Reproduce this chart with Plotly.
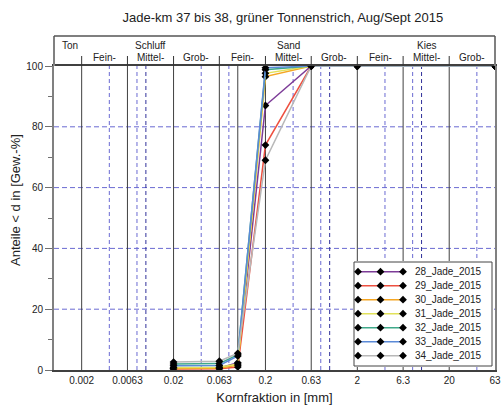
import math
import plotly.graph_objects as go

# ---------------- data ----------------
SIEVE_MM = [0.02, 0.063, 0.1, 0.2, 0.63, 2, 63]

SERIES_NAMES = ["28_Jade_2015", "29_Jade_2015", "30_Jade_2015", "31_Jade_2015",
                "32_Jade_2015", "33_Jade_2015", "34_Jade_2015"]
S28 = [0.6, 0.7, 2.4, 87.0, 100, 100, 100]
S29 = [0.3, 0.4, 1.0, 74.0, 100, 100, 100]
S30 = [0.5, 0.6, 1.6, 96.5, 100, 100, 100]
S31 = [0.8, 0.9, 2.0, 97.6, 100, 100, 100]
S32 = [2.0, 2.1, 5.0, 98.8, 100, 100, 100]
S33 = [1.4, 1.5, 4.6, 99.4, 100, 100, 100]
S34 = [2.6, 2.9, 5.5, 69.0, 100, 100, 100]
SERIES_VALUES = [S28, S29, S30, S31, S32, S33, S34]
SERIES_COLORS = ["#7d3c98", "#ee5040", "#f5a623", "#e2e25a", "#3fa98a", "#5b8ad8", "#b8b8b8"]

TICK_VALS = [0.002, 0.0063, 0.02, 0.063, 0.2, 0.63, 2, 6.3, 20, 63]
TICK_TEXT = ["0.002", "0.0063", "0.02", "0.063", "0.2", "0.63", "2", "6.3", "20", "63"]
Y_TICKS = [0, 20, 40, 60, 80, 100]

MAIN_CLASSES = ["Ton", "Schluff", "Sand", "Kies"]
MAIN_BOUNDS = [(0.001, 0.002), (0.002, 0.063), (0.063, 2), (2, 63)]
SUB_CLASSES = ["Fein-", "Mittel-", "Grob-"] * 3
SUB_BOUNDS = [(0.002, 0.0063), (0.0063, 0.02), (0.02, 0.063),
              (0.063, 0.2), (0.2, 0.63), (0.63, 2),
              (2, 6.3), (6.3, 20), (20, 63)]

SOLID_GRID = [0.002, 0.0063, 0.02, 0.063, 0.1, 0.2, 0.63, 2, 6.3, 20]
DASH_GRID = [0.004, 0.008, 0.04, 0.08, 0.4, 0.8, 4, 8, 40]
DASH_GRID_DARK = [0.01, 1, 10]
H_GRID = [20, 40, 60, 80]
HEADER_TICKS = [0.002, 0.0063, 0.02, 0.063, 0.2, 0.63, 2, 6.3, 20]

# ---------------- layout geometry ----------------
W, H = 501, 405
ML, MR, MT, MB = 54, 6, 66, 35
PW, PH = W - ML - MR, H - MT - MB


def px_x(px):
    return (px - ML) / PW


def px_y(py):
    return (H - MB - py) / PH


FONT = "Arial, Liberation Sans, sans-serif"
TXT = "#222222"
HEADER_TOP = px_y(36)

fig = go.Figure()

for name, vals, col in zip(SERIES_NAMES, SERIES_VALUES, SERIES_COLORS):
    fig.add_trace(go.Scatter(
        x=SIEVE_MM, y=vals, name=name, mode="lines+markers",
        line=dict(color=col, width=1.5),
        marker=dict(symbol="diamond", size=6, color="black"),
        cliponaxis=True, showlegend=False, xaxis="x", yaxis="y"))

shapes = []
for v in SOLID_GRID:
    shapes.append(dict(type="line", xref="x", yref="y", x0=v, x1=v, y0=0, y1=100,
                       line=dict(color="#404040", width=1), layer="below"))
for v in DASH_GRID:
    shapes.append(dict(type="line", xref="x", yref="y", x0=v, x1=v, y0=0, y1=100,
                       line=dict(color="#6a6ad2", width=1, dash="4px,3px"), layer="below"))
for v in DASH_GRID_DARK:
    shapes.append(dict(type="line", xref="x", yref="y", x0=v, x1=v, y0=0, y1=100,
                       line=dict(color="#30309a", width=1, dash="4px,3px"), layer="below"))
for v in H_GRID:
    shapes.append(dict(type="line", xref="paper", yref="y", x0=0, x1=1, y0=v, y1=v,
                       line=dict(color="#6a6ad2", width=1, dash="5px,3px"), layer="below"))
# header box
shapes.append(dict(type="line", xref="paper", yref="paper", x0=0, x1=0, y0=1, y1=HEADER_TOP,
                   line=dict(color="#808080", width=2)))
shapes.append(dict(type="line", xref="paper", yref="paper", x0=1, x1=1, y0=1, y1=HEADER_TOP,
                   line=dict(color="#808080", width=2)))
shapes.append(dict(type="line", xref="paper", yref="paper", x0=0, x1=1, y0=HEADER_TOP, y1=HEADER_TOP,
                   line=dict(color="#555555", width=1.5)))
for v in HEADER_TICKS:
    shapes.append(dict(type="line", xref="x", yref="paper", x0=v, x1=v, y0=1, y1=px_y(56),
                       line=dict(color="#333333", width=1)))

annotations = []


def gmid(a, b):
    return math.sqrt(a * b)


for i, (lab, (a, b)) in enumerate(zip(MAIN_CLASSES, MAIN_BOUNDS)):
    if i == 0:
        annotations.append(dict(text=lab, x=math.log10(0.00115), xref="x", y=px_y(45.5), yref="paper",
                                xanchor="left", yanchor="middle", showarrow=False,
                                font=dict(family=FONT, size=10, color=TXT)))
    else:
        annotations.append(dict(text=lab, x=math.log10(gmid(a, b)), xref="x", y=px_y(45.5), yref="paper",
                                xanchor="center", yanchor="middle", showarrow=False,
                                font=dict(family=FONT, size=10, color=TXT)))
for lab, (a, b) in zip(SUB_CLASSES, SUB_BOUNDS):
    annotations.append(dict(text=lab, x=math.log10(gmid(a, b)), xref="x", y=px_y(57), yref="paper",
                            xanchor="center", yanchor="middle", showarrow=False,
                            font=dict(family=FONT, size=10, color=TXT)))

# y axis title
annotations.append(dict(text="Anteile < d in [Gew.-%]", x=px_x(15), y=px_y(200), xref="paper", yref="paper",
                        textangle=-90, xanchor="center", yanchor="middle", showarrow=False,
                        font=dict(family=FONT, size=13, color=TXT)))

# ---------------- custom legend (own small axes, pixel units) ----------------
LX0, LX1, LY0, LY1 = 354, 492, 262, 366
fig.add_trace(go.Scatter(x=[LX0, LX1, LX1, LX0, LX0], y=[LY0, LY0, LY1, LY1, LY0],
                         mode="lines", fill="toself", fillcolor="white",
                         line=dict(color="#444444", width=1), hoverinfo="skip",
                         showlegend=False, xaxis="x2", yaxis="y2"))
for i, (name, col) in enumerate(zip(SERIES_NAMES, SERIES_COLORS)):
    yy = 271.7 + 14 * i
    fig.add_trace(go.Scatter(x=[358, 380.5, 403], y=[yy] * 3, mode="lines+markers",
                             line=dict(color=col, width=1.5),
                             marker=dict(symbol="diamond", size=6, color="black"),
                             hoverinfo="skip", showlegend=False, xaxis="x2", yaxis="y2"))
    annotations.append(dict(text=name, x=412.5, y=yy, xref="x2", yref="y2", xanchor="left",
                            yanchor="middle", showarrow=False,
                            font=dict(family=FONT, size=10, color=TXT)))

fig.update_layout(
    width=W, height=H,
    margin=dict(l=ML, r=MR, t=MT, b=MB, pad=0, autoexpand=False),
    paper_bgcolor="white", plot_bgcolor="white",
    showlegend=False,
    title=dict(text="Jade-km 37 bis 38, grüner Tonnenstrich, Aug/Sept 2015",
               x=260 / W, xanchor="center", xref="paper", y=1 - 17 / H, yanchor="middle",
               font=dict(family=FONT, size=13, color=TXT)),
    xaxis=dict(type="log", range=[math.log10(0.001), math.log10(63)],
               tickmode="array", tickvals=TICK_VALS, ticktext=TICK_TEXT,
               showgrid=False, zeroline=False, showline=True, mirror=True,
               linecolor="#404040", linewidth=1.5, ticks="", automargin=False,
               tickfont=dict(family=FONT, size=10, color=TXT),
               title=dict(text="Kornfraktion in [mm]", standoff=8,
                          font=dict(family=FONT, size=13, color=TXT))),
    yaxis=dict(range=[0, 100], tickmode="array", tickvals=Y_TICKS, automargin=False,
               showgrid=False, zeroline=False, showline=True, mirror=True,
               linecolor="#808080", linewidth=2, ticks="outside", ticklen=7,
               tickcolor="#707070", tickwidth=1,
               minor=dict(ticks="outside", ticklen=4, dtick=10, tickcolor="#707070", showgrid=False),
               tickfont=dict(family=FONT, size=10, color=TXT)),
    xaxis2=dict(domain=[px_x(353), px_x(493)], range=[353, 493], anchor="y2", visible=False,
                fixedrange=True),
    yaxis2=dict(domain=[px_y(367), px_y(261)], range=[367, 261], anchor="x2", visible=False,
                fixedrange=True),
    shapes=shapes,
    annotations=annotations,
)

fig.write_html("out.html")
